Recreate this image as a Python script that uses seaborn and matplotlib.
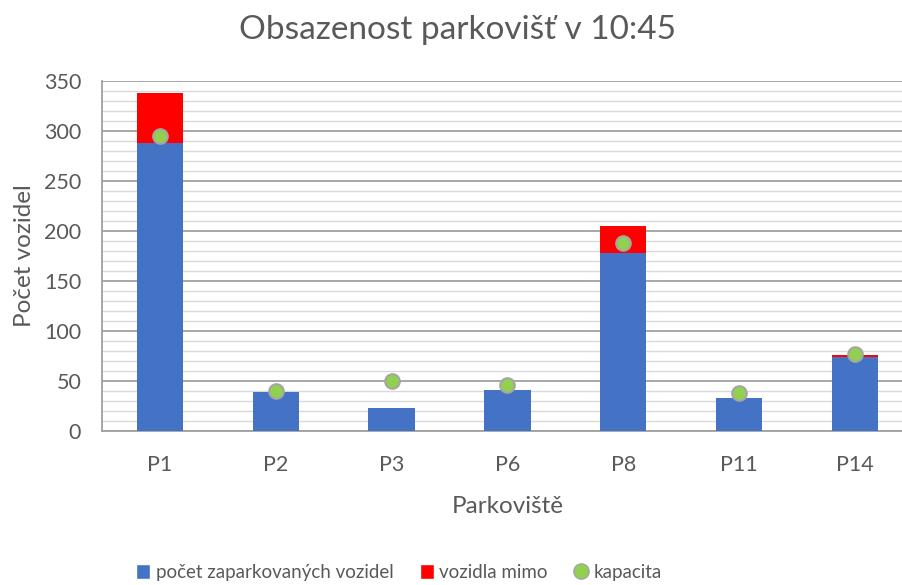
import pandas as pd
import matplotlib.pyplot as plt
import seaborn as sns
from matplotlib.patches import Patch
from matplotlib.lines import Line2D
from matplotlib.ticker import MultipleLocator

# Data
parkoviste = ['P1', 'P2', 'P3', 'P6', 'P8', 'P11', 'P14']
zaparkovano = [288, 39, 23, 41, 178, 33, 74]
mimo = [50, 0, 0, 0, 27, 0, 2]
kapacita = [295, 40, 50, 46, 188, 38, 77]

df = pd.DataFrame({
    'Parkoviště': parkoviste,
    'zaparkovano': zaparkovano,
    'mimo': mimo,
    'kapacita': kapacita,
})
df['celkem'] = df['zaparkovano'] + df['mimo']

sns.set_style('white')
plt.rcParams['font.family'] = ['Lato', 'DejaVu Sans']
text_col = '#595959'

fig = plt.figure(figsize=(9.03, 5.85), dpi=100)
ax = fig.add_axes([0.113, 0.263, 0.898, 0.5985])

# stacked bars: total in red, parked in blue on top
sns.barplot(data=df, x='Parkoviště', y='celkem', color='#FF0000',
            saturation=1, width=0.4, linewidth=0, ax=ax, zorder=2)
sns.barplot(data=df, x='Parkoviště', y='zaparkovano', color='#4472C4',
            saturation=1, width=0.4, linewidth=0, ax=ax, zorder=3)
sns.scatterplot(data=df, x='Parkoviště', y='kapacita', color='#92D050',
                edgecolor='#A5A5A5', linewidth=1.5, s=110, ax=ax, zorder=4)

ax.set_ylim(0, 350)
ax.set_xlim(-0.5, len(parkoviste) - 0.5)
ax.yaxis.set_major_locator(MultipleLocator(50))
ax.yaxis.set_minor_locator(MultipleLocator(10))
ax.grid(which='major', axis='y', color='#A0A0A0', linewidth=1.3, zorder=0)
ax.grid(which='minor', axis='y', color='#D9D9D9', linewidth=1.0, zorder=0)
ax.set_axisbelow(True)
for s in ['top', 'right']:
    ax.spines[s].set_visible(False)
for s in ['left', 'bottom']:
    ax.spines[s].set_color('#A0A0A0')
    ax.spines[s].set_linewidth(1.3)
ax.tick_params(axis='both', which='both', length=0, labelsize=15.5,
               colors=text_col)
ax.tick_params(axis='y', pad=15)
ax.tick_params(axis='x', pad=17)

ax.set_xlabel('Parkoviště', fontsize=17.5, color=text_col, labelpad=15)
ax.set_ylabel('Počet vozidel', fontsize=17.5, color=text_col, labelpad=6)
fig.suptitle('Obsazenost parkovišť v 10:45', fontsize=24, color=text_col,
             x=0.507, y=0.975)

handles = [
    Patch(facecolor='#4472C4', label='počet zaparkovaných vozidel'),
    Patch(facecolor='#FF0000', label='vozidla mimo'),
    Line2D([], [], marker='o', linestyle='none', markerfacecolor='#92D050',
           markeredgecolor='#A5A5A5', markersize=11, label='kapacita'),
]
fig.legend(handles=handles, loc='center', bbox_to_anchor=(0.442, 0.022),
           ncol=3, frameon=False, fontsize=13.5, labelcolor=text_col,
           handlelength=0.75, handleheight=0.9, handletextpad=0.3,
           columnspacing=1.4)

fig.savefig('out.png', dpi=100)
